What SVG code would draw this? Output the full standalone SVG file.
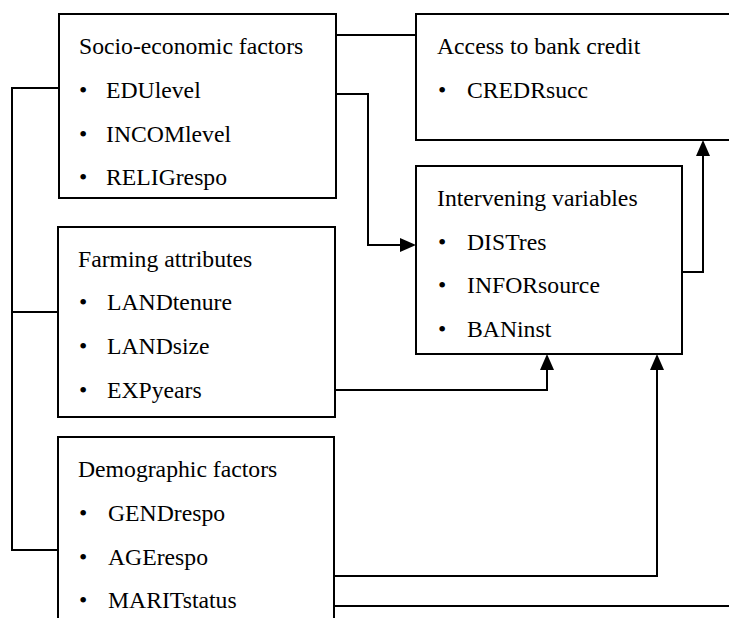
<svg xmlns="http://www.w3.org/2000/svg" width="729" height="618" viewBox="0 0 729 618">
<style>
.box{fill:#fff;stroke:#000;stroke-width:2}
.t{font-family:"Liberation Serif","Times New Roman",serif;font-size:23.7px;fill:#000}
.c{fill:none;stroke:#000;stroke-width:2}
</style>
<defs>
<marker id="ah" markerUnits="userSpaceOnUse" markerWidth="16" markerHeight="14" refX="8" refY="7" orient="auto">
<path d="M0,0 L16,7 L0,14 z" fill="#000"/>
</marker>
</defs>
<rect width="729" height="618" fill="#fff"/>
<g id="connectors">
<path class="c" d="M336,35 H416"/>
<path class="c" d="M336,94 H368 V245 H408" marker-end="url(#ah)"/>
<path class="c" d="M682,272 H703 V148" marker-end="url(#ah)"/>
<path class="c" d="M59,88 H12 V550 H58"/>
<path class="c" d="M12,312 H58"/>
<path class="c" d="M335,390 H547 V362" marker-end="url(#ah)"/>
<path class="c" d="M334,576 H657 V362" marker-end="url(#ah)"/>
<path class="c" d="M334,606 H729"/>
</g>
<g id="socio">
<rect class="box" x="59" y="14" width="277" height="184"/>
<text class="t" x="79" y="54">Socio-economic factors</text>
<text class="t" x="79" y="98">•</text><text class="t" x="106" y="98">EDUlevel</text>
<text class="t" x="79" y="142">•</text><text class="t" x="106" y="142">INCOMlevel</text>
<text class="t" x="79" y="185">•</text><text class="t" x="106" y="185">RELIGrespo</text>
</g>
<g id="access">
<rect class="box" x="416" y="14" width="330" height="126"/>
<text class="t" x="437" y="54">Access to bank credit</text>
<text class="t" x="438" y="98">•</text><text class="t" x="467" y="98">CREDRsucc</text>
</g>
<g id="intervening">
<rect class="box" x="416" y="166" width="266" height="188"/>
<text class="t" x="437" y="206">Intervening variables</text>
<text class="t" x="438" y="250">•</text><text class="t" x="467" y="250">DISTres</text>
<text class="t" x="438" y="293">•</text><text class="t" x="467" y="293">INFORsource</text>
<text class="t" x="438" y="337">•</text><text class="t" x="467" y="337">BANinst</text>
</g>
<g id="farming">
<rect class="box" x="58" y="227" width="277" height="190"/>
<text class="t" x="78" y="267">Farming attributes</text>
<text class="t" x="79" y="310">•</text><text class="t" x="107" y="310">LANDtenure</text>
<text class="t" x="79" y="354">•</text><text class="t" x="107" y="354">LANDsize</text>
<text class="t" x="79" y="398">•</text><text class="t" x="107" y="398">EXPyears</text>
</g>
<g id="demographic">
<rect class="box" x="58" y="437" width="276" height="200"/>
<text class="t" x="78" y="477">Demographic factors</text>
<text class="t" x="79" y="521">•</text><text class="t" x="108" y="521">GENDrespo</text>
<text class="t" x="79" y="565">•</text><text class="t" x="108" y="565">AGErespo</text>
<text class="t" x="79" y="608">•</text><text class="t" x="108" y="608">MARITstatus</text>
</g>
</svg>
